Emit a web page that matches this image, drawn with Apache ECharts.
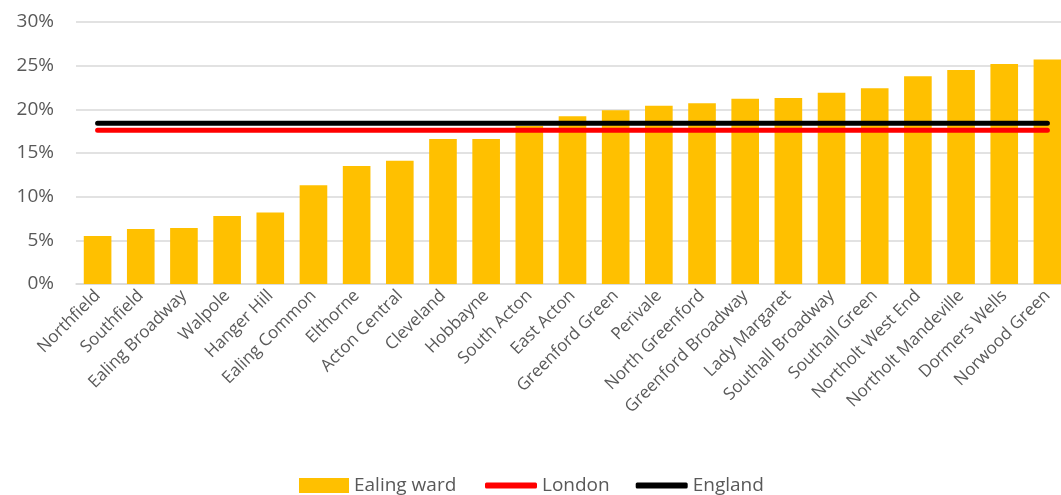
<!DOCTYPE html>
<html>
<head>
<meta charset="utf-8">
<script src="https://cdn.jsdelivr.net/npm/echarts@6/dist/echarts.min.js"></script>
<style>
  html, body { margin: 0; padding: 0; background: #fff; }
  #main { width: 1061px; height: 495px; }
</style>
</head>
<body>
<div id="main"></div>
<script>
// ward names, left to right
var wards = ['Northfield', 'Southfield', 'Ealing Broadway', 'Walpole', 'Hanger Hill',
    'Ealing Common', 'Elthorne', 'Acton Central', 'Cleveland', 'Hobbayne', 'South Acton',
    'East Acton', 'Greenford Green', 'Perivale', 'North Greenford', 'Greenford Broadway',
    'Lady Margaret', 'Southall Broadway', 'Southall Green', 'Northolt West End',
    'Northolt Mandeville', 'Dormers Wells', 'Norwood Green'];
// percent values
var wardValues = [5.5, 6.3, 6.4, 7.8, 8.2, 11.3, 13.5, 14.1, 16.6, 16.6, 18.1,
    19.2, 19.9, 20.4, 20.7, 21.2, 21.3, 21.9, 22.4, 23.8, 24.5, 25.2, 25.7];
var londonValue = 17.6;
var englandValue = 18.4;
var yTicks = [0, 5, 10, 15, 20, 25, 30];

var chart = echarts.init(document.getElementById('main'));
var fontName = 'Open Sans';

var londonData = wards.map(function () { return londonValue; });
var englandData = wards.map(function () { return englandValue; });

var legendText = { fontSize: 19, color: '#595959', fontFamily: fontName };

chart.setOption({
    animation: false,
    textStyle: { fontFamily: fontName },
    // plot runs a little past the right edge, like the original
    grid: { left: 76, width: 993, top: 22, bottom: 211, containLabel: false, outerBoundsMode: 'none' },
    legend: [
        {
            left: 299,
            top: 476,
            padding: 0,
            itemWidth: 50,
            itemHeight: 15,
            textStyle: legendText,
            data: [{ name: 'Ealing ward', icon: 'rect' }]
        },
        {
            left: 485,
            top: 476,
            padding: 0,
            itemWidth: 52,
            itemHeight: 6,
            itemGap: 26,
            textStyle: legendText,
            data: [
                { name: 'London', icon: 'roundRect' },
                { name: 'England', icon: 'roundRect' }
            ]
        }
    ],
    xAxis: {
        type: 'category',
        data: wards,
        boundaryGap: true,
        axisLine: { lineStyle: { color: '#D9D9D9', width: 1.5 } },
        axisTick: { show: false },
        axisLabel: { rotate: 45, interval: 0, fontSize: 17, color: '#595959', margin: 9 }
    },
    yAxis: {
        type: 'value',
        min: yTicks[0],
        max: yTicks[yTicks.length - 1],
        interval: 5,
        axisLine: { show: false },
        axisTick: { show: false },
        splitLine: { lineStyle: { color: '#D9D9D9', width: 1.5 } },
        axisLabel: { formatter: '{value}%', fontSize: 19, color: '#595959', margin: 22 }
    },
    series: [
        {
            name: 'Ealing ward',
            type: 'bar',
            data: wardValues,
            barWidth: '64%',
            itemStyle: { color: '#FFC000' }
        },
        {
            name: 'London',
            type: 'line',
            data: londonData,
            symbol: 'none',
            lineStyle: { color: '#FF0000', width: 5, cap: 'round' },
            itemStyle: { color: '#FF0000' }
        },
        {
            name: 'England',
            type: 'line',
            data: englandData,
            symbol: 'none',
            lineStyle: { color: '#000000', width: 5, cap: 'round' },
            itemStyle: { color: '#000000' }
        }
    ]
});
</script>
</body>
</html>
